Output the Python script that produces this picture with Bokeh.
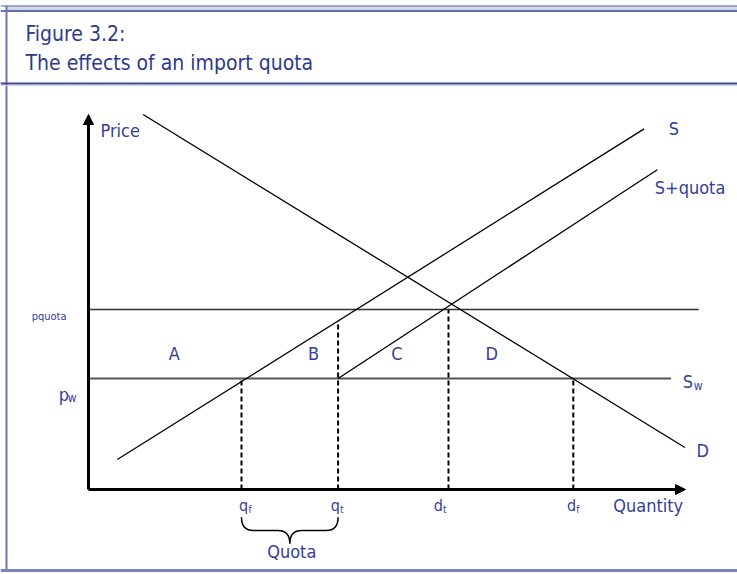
import numpy as np
from bokeh.plotting import figure
from bokeh.models import Span, BoxAnnotation, Arrow, NormalHead, Label
from bokeh.core.properties import value
from bokeh.embed import file_html
from bokeh.resources import INLINE

# ---------------- data (chart units: quantity, price) ----------------
p_world = 18.5
p_quota = 30.0
q_f = 25.5
q_t = 41.6
d_t = 60.0
d_f = 80.8
supply_q = [4.8, 92.6]
supply_p = [5.0, 60.1]
supply_quota_q = [41.6, 94.8]
supply_quota_p = [18.5, 53.3]
demand_q = [9.1, 99.4]
demand_p = [62.5, 7.0]
q_axis_max = 99.5
p_axis_max = 62.5
p_quota_line_end = 101.7
p_world_line_end = 97.1

dash_q = [q_f, q_t, d_t, d_f]
dash_top = [p_world, float(np.interp(q_t, supply_q, supply_p)), p_quota, p_world]
dash_main = ["q", "q", "d", "d"]
dash_sub = ["f", "t", "t", "f"]

region_labels = ["A", "B", "C", "D"]
region_q = [14.3, 37.5, 51.4, 67.2]
region_p = [22.7, 22.7, 22.7, 22.7]

title_lines = ["Figure 3.2:", "The effects of an import quota"]

# ---------------- layout helpers (reference pixels -> chart units) ----------------
PX = 6.0
X0, Y0 = 88, 489
def ux(px):
    return (px - X0) / PX
def uy(py):
    return (Y0 - py) / PX

W, H = 737, 572
FONT = "DejaVu Sans Condensed"
BLUE = "#33409A"

p = figure(width=W, height=H, output_backend="svg", toolbar_location=None,
           x_range=(ux(0), ux(W)), y_range=(uy(H), uy(0)),
           min_border=0, outline_line_color=None)
p.axis.visible = False
p.grid.visible = False
p.background_fill_color = "white"
p.border_fill_color = "white"

# ---------------- frame ----------------
p.add_layout(BoxAnnotation(top=uy(5), bottom=uy(11), left=ux(6), fill_color="#D3D7E6",
                           fill_alpha=1, line_color=None, level="underlay"))
p.add_layout(Span(location=uy(5.5), dimension="width", line_color="#5A66B0", line_width=1))
p.add_layout(Span(location=uy(10.5), dimension="width", line_color="#34449A", line_width=1.5))
p.add_layout(BoxAnnotation(left=ux(5), right=ux(7), top=uy(5), bottom=uy(571),
                           fill_color="#6A73B7", fill_alpha=1, line_color=None))
p.add_layout(Span(location=uy(83), dimension="width", line_color="#3A4898", line_width=2))
p.add_layout(Span(location=uy(85), dimension="width", line_color="#D0D3E5", line_width=1))
p.add_layout(Span(location=uy(570), dimension="width", line_color="#7D85BB", line_width=3))

# ---------------- price lines ----------------
p.line([0, p_quota_line_end], [p_quota, p_quota], line_color="#333333", line_width=1.5)
p.line([0, p_world_line_end], [p_world, p_world], line_color="#555555", line_width=2)

# supply / demand
p.line(supply_q, supply_p, line_color="black", line_width=1.3)
p.line(supply_quota_q, supply_quota_p, line_color="black", line_width=1.3)
p.line(demand_q, demand_p, line_color="black", line_width=1.3)

# dashed verticals
p.segment(x0=dash_q, y0=[0] * 4, x1=dash_q, y1=dash_top, line_color="black",
          line_width=2, line_dash="5 3")

# axes with arrows
p.add_layout(Arrow(end=NormalHead(size=10, fill_color="black", line_color="black"),
                   x_start=0, y_start=0, x_end=q_axis_max, y_end=0,
                   line_width=3, line_color="black"))
p.add_layout(Arrow(end=NormalHead(size=10, fill_color="black", line_color="black"),
                   x_start=0, y_start=0, x_end=0, y_end=p_axis_max,
                   line_width=3, line_color="black"))

# brace under quota
r = 2.0
mid = (q_f + q_t) / 2
yt, yh, ytip = uy(516.7), uy(530), uy(543)
p.quadratic(x0=[q_f, mid - r, mid, q_t - r], y0=[yt, yh, ytip, yh],
            x1=[q_f + r, mid, mid + r, q_t], y1=[yh, ytip, yh, yt],
            cx=[q_f, mid, mid, q_t], cy=[yh, yh, yh, yh],
            line_color="black", line_width=1.5)
p.segment(x0=[q_f + r, mid + r], y0=[yh, yh], x1=[mid - r, q_t - r], y1=[yh, yh],
          line_color="black", line_width=1.5)

# ---------------- texts (y = visual middle) ----------------
def lab(text, x, y, size, align="left", color=BLUE):
    p.add_layout(Label(x=x, y=y, text=text, text_font=FONT,
                       text_font_size=f"{size}px", text_color=color,
                       text_align=align, text_baseline="middle"))

# title
for i, t in enumerate(title_lines):
    lab(t, ux(25), uy(33 + 29 * i), 21, color="#2D3A8C")

# region letters
p.text(x=region_q, y=region_p, text=region_labels, text_font=value(FONT),
       text_font_size="18px", text_color=BLUE, text_align="center",
       text_baseline="middle")

# quantity tick labels
main_off = [-2.4, -7.3, -14.7, -6.3]
p.text(x=dash_q, y=[uy(505)] * 4, text=dash_main, x_offset=main_off,
       text_font=value(FONT), text_font_size="16px", text_color=BLUE,
       text_baseline="middle")
p.text(x=dash_q, y=[uy(508.5)] * 4, text=dash_sub, x_offset=[o + 9.3 for o in main_off],
       text_font=value(FONT), text_font_size="10px", text_color=BLUE,
       text_baseline="middle")

lab("Price", ux(100), uy(130.3), 18)
lab("Quantity", ux(612.7), uy(504.5), 18)
lab("Quota", ux(266.7), uy(551), 18)
lab("S", ux(668.3), uy(128), 18)
lab("S+quota", ux(654.3), uy(186.5), 18)
lab("S", ux(682.3), uy(380.7), 18)
lab("w", ux(693.3), uy(385.5), 12)
lab("D", ux(696), uy(450), 18)
lab("p", ux(58.3), uy(394), 18)
lab("w", ux(67.3), uy(397.5), 12)
lab("pquota", ux(66), uy(316), 11, align="right")

open("out.html", "w").write(file_html(p, INLINE))
